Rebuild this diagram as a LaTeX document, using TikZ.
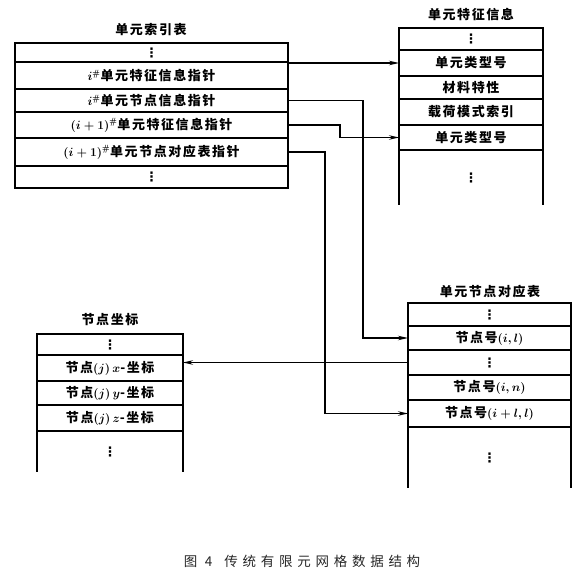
\documentclass[tikz,border=0pt]{standalone}
\usepackage{fontspec}
\newfontfamily\cjk[LetterSpace=12]{Noto Sans CJK SC}
\newfontfamily\capfont[LetterSpace=35]{Noto Sans CJK SC}
\newfontfamily\symfont{DejaVu Sans}
\newcommand\dotcol{{\symfont\bfseries ⋮}}
\usetikzlibrary{arrows.meta}

\tikzset{
  cell/.style={draw, line width=1.8pt, outer sep=0pt, anchor=north west, inner sep=0pt,
    font=\cjk\bfseries\boldmath\fontsize{13}{13}\selectfont},
  opencell/.style={cell, draw=none},
  sides/.style={line width=1.8pt},
  heading/.style={font=\cjk\bfseries\fontsize{13}{13}\selectfont},
  caption/.style={text=black!85, font=\capfont\fontsize{13.5}{13.5}\selectfont},
  link/.style={line width=1.3pt, -{Stealth[length=10pt,width=4.5pt]}}
}

\begin{document}
\begin{tikzpicture}[x=1pt, y=-1pt]
  \useasboundingbox (0,0) rectangle (584,577);

  % element index table
  \node[heading] (ta) at (151,30) {单元索引表};
  \node[cell, minimum width=273pt, minimum height=19pt] (a1) at (15,43) {\dotcol};
  \node[cell, minimum width=273pt, minimum height=27pt] (a2) at (a1.south west) {$i^{\#}$单元特征信息指针};
  \node[cell, minimum width=273pt, minimum height=23pt] (a3) at (a2.south west) {$i^{\#}$单元节点信息指针};
  \node[cell, minimum width=273pt, minimum height=26pt] (a4) at (a3.south west) {$(i+1)^{\#}$单元特征信息指针};
  \node[cell, minimum width=273pt, minimum height=28pt] (a5) at (a4.south west) {$(i+1)^{\#}$单元节点对应表指针};
  \node[cell, minimum width=273pt, minimum height=22pt] (a6) at (a5.south west) {\dotcol};

  % element feature info
  \node[heading] (tb) at (471,15) {单元特征信息};
  \node[cell, minimum width=144pt, minimum height=22pt] (b1) at (399,28) {\dotcol};
  \node[cell, minimum width=144pt, minimum height=26pt] (b2) at (b1.south west) {单元类型号};
  \node[cell, minimum width=144pt, minimum height=23pt] (b3) at (b2.south west) {材料特性};
  \node[cell, minimum width=144pt, minimum height=26pt] (b4) at (b3.south west) {载荷模式索引};
  \node[cell, minimum width=144pt, minimum height=25pt] (b5) at (b4.south west) {单元类型号};
  \node[opencell, minimum width=144pt, minimum height=55pt] (b6) at (b5.south west) {\dotcol};
  \draw[sides] (b6.north west) -- (b6.south west) (b6.north east) -- (b6.south east);

  % element node table
  \node[heading] (tc) at (490,292) {单元节点对应表};
  \node[cell, minimum width=163pt, minimum height=23pt] (c1) at (408,303) {\dotcol};
  \node[cell, minimum width=163pt, minimum height=24pt] (c2) at (c1.south west) {节点号$(i,l)$};
  \node[cell, minimum width=163pt, minimum height=25pt] (c3) at (c2.south west) {\dotcol};
  \node[cell, minimum width=163pt, minimum height=25pt] (c4) at (c3.south west) {节点号$(i,n)$};
  \node[cell, minimum width=163pt, minimum height=27pt] (c5) at (c4.south west) {节点号$(i+l,l)$};
  \node[opencell, minimum width=163pt, minimum height=61pt] (c6) at (c5.south west) {\dotcol};
  \draw[sides] (c6.north west) -- (c6.south west) (c6.north east) -- (c6.south east);

  % node coordinates
  \node[heading] (td) at (110,320) {节点坐标};
  \node[cell, minimum width=146pt, minimum height=21pt] (d1) at (37,334) {\dotcol};
  \node[cell, minimum width=146pt, minimum height=26pt] (d2) at (d1.south west) {节点$(j)\,x$-坐标};
  \node[cell, minimum width=146pt, minimum height=24pt] (d3) at (d2.south west) {节点$(j)\,y$-坐标};
  \node[cell, minimum width=146pt, minimum height=26pt] (d4) at (d3.south west) {节点$(j)\,z$-坐标};
  \node[opencell, minimum width=146pt, minimum height=41pt] (d5) at (d4.south west) {\dotcol};
  \draw[sides] (d5.north west) -- (d5.south west) (d5.north east) -- (d5.south east);

  % pointers
  \draw[link] (a2.east |- b2.west) -- (b2.west);
  \draw[link] (a3.east) -- ++(75,0) |- (c2.west);
  \draw[link] (a4.east) -- ++(52,0) |- (b5.west);
  \draw[link] (a5.east) -- ++(37,0) |- (c5.west);
  \draw[link] (c3.west) -- (c3.west -| d2.east);

  \node[caption] (cap) at (302,561) {图 4\hspace{12pt}传统有限元网格数据结构};
\end{tikzpicture}
\end{document}
